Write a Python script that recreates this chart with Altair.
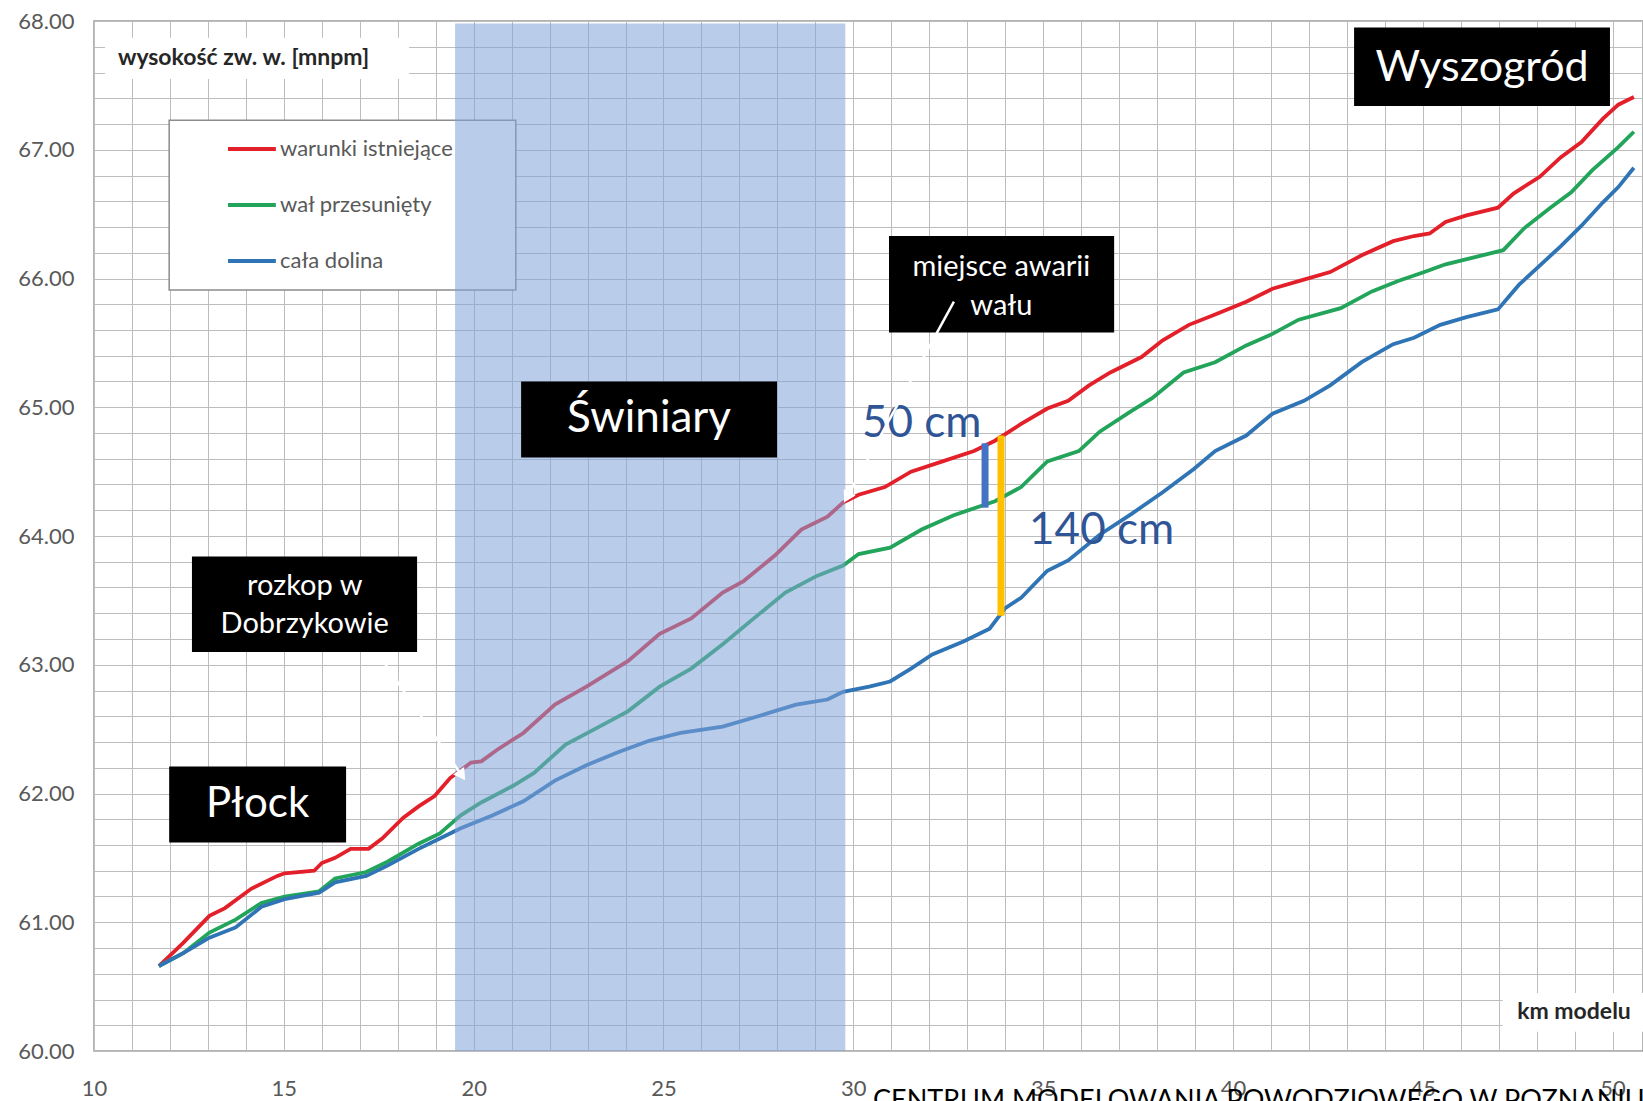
import altair as alt
import numpy as np
import pandas as pd

# ---- water level profiles along the model kilometre ----
km_istn = [11.71, 12.35, 13.04, 13.45, 14.14, 14.83, 15.02, 15.8, 16.0, 16.35, 16.76, 17.23, 17.59,
           18.14, 18.55, 18.97, 19.38, 19.66, 19.93, 20.2, 20.62, 21.31, 22.14, 22.97, 24.07, 24.9,
           25.73, 26.56, 27.11, 27.94, 28.63, 29.32, 29.73, 30.14, 30.83, 31.52, 32.35, 33.18, 33.73,
           34.42, 35.11, 35.66, 36.21, 36.77, 37.59, 38.15, 38.84, 39.53, 40.35, 41.04, 41.73, 42.56,
           43.39, 44.22, 44.77, 45.18, 45.6, 46.15, 46.98, 47.39, 48.08, 48.63, 49.18, 49.74, 50.15, 50.56]
h_istn = [60.66, 60.84, 61.05, 61.11, 61.26, 61.36, 61.38, 61.40, 61.46, 61.50, 61.57, 61.57, 61.65,
          61.81, 61.90, 61.98, 62.12, 62.18, 62.24, 62.25, 62.34, 62.47, 62.69, 62.83, 63.03, 63.24,
          63.36, 63.56, 63.65, 63.85, 64.05, 64.15, 64.26, 64.32, 64.38, 64.50, 64.58, 64.66, 64.74,
          64.87, 64.99, 65.05, 65.17, 65.27, 65.39, 65.52, 65.64, 65.72, 65.82, 65.92, 65.98, 66.05,
          66.18, 66.29, 66.33, 66.35, 66.44, 66.49, 66.55, 66.66, 66.79, 66.94, 67.06, 67.24, 67.35, 67.41]

km_wal = [11.71, 12.35, 13.04, 13.73, 14.41, 15.02, 15.93, 16.35, 17.17, 17.73, 18.55, 19.11, 19.66,
          20.2, 21.04, 21.59, 22.42, 23.25, 24.07, 24.9, 25.73, 26.56, 27.38, 28.21, 29.04, 29.73,
          30.14, 30.97, 31.8, 32.63, 33.73, 34.42, 35.11, 35.94, 36.49, 37.32, 37.87, 38.7, 39.53,
          40.35, 41.04, 41.73, 42.84, 43.66, 44.35, 45.04, 45.6, 46.43, 47.12, 47.67, 48.36, 48.91,
          49.46, 50.15, 50.56]
h_wal = [60.66, 60.76, 60.92, 61.02, 61.15, 61.20, 61.24, 61.34, 61.39, 61.47, 61.61, 61.69, 61.83,
         61.93, 62.06, 62.16, 62.38, 62.51, 62.64, 62.83, 62.97, 63.16, 63.36, 63.56, 63.69, 63.77,
         63.86, 63.91, 64.05, 64.16, 64.27, 64.38, 64.58, 64.66, 64.81, 64.97, 65.07, 65.27, 65.35,
         65.48, 65.57, 65.68, 65.77, 65.90, 65.98, 66.05, 66.11, 66.17, 66.22, 66.39, 66.55, 66.67,
         66.84, 67.02, 67.14]

km_dol = [11.71, 12.35, 13.04, 13.73, 14.41, 15.02, 15.93, 16.35, 17.17, 17.73, 18.55, 19.11, 19.66,
          20.49, 21.31, 22.14, 22.97, 23.8, 24.62, 25.45, 26.56, 27.38, 28.49, 29.32, 29.73, 30.42,
          30.97, 31.52, 32.08, 32.9, 33.59, 34.0, 34.42, 35.11, 35.66, 36.49, 37.32, 38.15, 38.97,
          39.53, 40.35, 41.04, 41.87, 42.56, 43.39, 44.22, 44.77, 45.46, 46.15, 46.98, 47.53, 48.08,
          48.63, 49.18, 49.74, 50.15, 50.56]
h_dol = [60.66, 60.76, 60.88, 60.96, 61.12, 61.18, 61.23, 61.31, 61.36, 61.44, 61.57, 61.65, 61.73,
         61.83, 61.94, 62.10, 62.22, 62.32, 62.41, 62.47, 62.52, 62.59, 62.69, 62.73, 62.79, 62.83,
         62.87, 62.97, 63.08, 63.18, 63.28, 63.44, 63.52, 63.73, 63.81, 64.01, 64.17, 64.34, 64.52,
         64.66, 64.78, 64.95, 65.05, 65.17, 65.35, 65.49, 65.54, 65.64, 65.70, 65.76, 65.95, 66.10,
         66.25, 66.41, 66.59, 66.71, 66.86]

series_names = ["warunki istniejące", "wał przesunięty", "cała dolina"]
series_colors = ["#e3202a", "#22a45a", "#2f74b5"]

# differences at the levee failure site [m]
diff_wal = 0.5
diff_dolina = 1.4
km_awaria = 33.47

x_ticks = list(range(10, 51))
y_ticks = [round(v, 1) for v in np.arange(60.0, 68.01, 0.2)]

# ---- layout ----
X_DOM = [10, 50.8]
Y_DOM = [60, 68]
W, H = 1549, 1030
PX_KM = W / (X_DOM[1] - X_DOM[0])
PX_M = H / (Y_DOM[1] - Y_DOM[0])
FONT = "Lato"

xs = alt.Scale(domain=X_DOM, nice=False, zero=False)
ys = alt.Scale(domain=Y_DOM, nice=False, zero=False)

AX_X = alt.Axis(values=x_ticks, grid=True, gridColor="#bdbdbd", gridWidth=1,
                ticks=False, domain=False, labelFlush=False, labelOverlap=False,
                labelExpr="datum.value % 5 == 0 ? datum.value : ''",
                labelFont=FONT, labelFontSize=22, labelColor="#595959", labelPadding=27)
AX_Y = alt.Axis(values=y_ticks, grid=True, gridColor="#bdbdbd", gridWidth=1,
                ticks=False, domain=False, labelFlush=False, labelOverlap=False,
                labelExpr="abs(datum.value - round(datum.value)) < 0.01 ? format(datum.value, '.2f') : ''",
                labelFont=FONT, labelFontSize=22, labelColor="#595959", labelPadding=20)


def X(field):
    return alt.X(field, type="quantitative", scale=xs, axis=AX_X, title=None)


def Y(field):
    return alt.Y(field, type="quantitative", scale=ys, axis=AX_Y, title=None)


frames = []
for name, kms, hs in [(series_names[0], km_istn, h_istn),
                      (series_names[1], km_wal, h_wal),
                      (series_names[2], km_dol, h_dol)]:
    frames.append(pd.DataFrame({"km": kms, "h": hs, "seria": name}))
profiles = pd.concat(frames, ignore_index=True)

series_scale = alt.Scale(domain=series_names, range=series_colors)

lines = alt.Chart(profiles).mark_line(strokeWidth=3.8, interpolate="linear").encode(
    x=X("km"), y=Y("h"),
    color=alt.Color("seria:N", scale=series_scale, legend=None),
    order=alt.Order("km:Q"),
)

# ---- legend box ----
leg_box = alt.Chart(pd.DataFrame({"x": [11.98], "x2": [21.11], "y": [67.23], "y2": [65.91]})).mark_rect(
    fill="white", stroke="#8c8c8c", strokeWidth=1.5).encode(x=X("x"), x2="x2", y=Y("y"), y2="y2")
leg_y = [67.006, 66.571, 66.136]
leg_df = pd.DataFrame({"x": [13.53] * 3, "x2": [14.79] * 3, "y": leg_y, "tx": [14.90] * 3,
                       "seria": series_names})
leg_lines = alt.Chart(leg_df).mark_rule(strokeWidth=4).encode(
    x=X("x"), x2="x2", y=Y("y"), color=alt.Color("seria:N", scale=series_scale, legend=None))
leg_text = alt.Chart(leg_df).mark_text(align="left", baseline="middle", font=FONT, fontSize=22,
                                       color="#595959").encode(x=X("tx"), y=Y("y"), text="seria:N")

# ---- Świniary reach shading ----
shade = alt.Chart(pd.DataFrame({"x": [19.51], "x2": [29.79], "y": [60.0], "y2": [67.98]})).mark_rect(
    fill="#7fa3d8", opacity=0.55).encode(x=X("x"), x2="x2", y=Y("y"), y2="y2")

# ---- axis captions inside the plot ----
cap_bg = alt.Chart(pd.DataFrame({"x": [10.29, 47.10], "x2": [18.3, 50.8],
                                 "y": [67.87, 60.45], "y2": [67.55, 60.15]})).mark_rect(
    fill="white").encode(x=X("x"), x2="x2", y=Y("y"), y2="y2")
cap_left = alt.Chart(pd.DataFrame({"x": [10.63], "y": [67.71], "t": ["wysokość zw. w. [mnpm]"]})).mark_text(
    align="left", baseline="middle", font=FONT, fontSize=23, fontWeight="bold", color="#262626").encode(
    x=X("x"), y=Y("y"), text="t:N")
cap_right = alt.Chart(pd.DataFrame({"x": [50.48], "y": [60.30], "t": ["km modelu"]})).mark_text(
    align="right", baseline="middle", font=FONT, fontSize=23, fontWeight="bold", color="#262626").encode(
    x=X("x"), y=Y("y"), text="t:N")

# ---- black label boxes ----
boxes = pd.DataFrame({
    "x": [11.98, 12.58, 21.25, 30.94, 43.19],
    "x2": [16.64, 18.51, 27.99, 36.87, 49.93],
    "y": [62.21, 63.84, 65.20, 66.33, 67.95],
    "y2": [61.62, 63.10, 64.61, 65.58, 67.34],
})
box_marks = alt.Chart(boxes).mark_rect(fill="black").encode(x=X("x"), x2="x2", y=Y("y"), y2="y2")
box_text = pd.DataFrame({
    "x": [14.31, 15.55, 15.55, 24.62, 33.90, 33.90, 46.56],
    "y": [61.915, 63.61, 63.32, 64.91, 66.09, 65.79, 67.635],
    "t": ["Płock", "rozkop w", "Dobrzykowie", "Świniary", "miejsce awarii", "wału", "Wyszogród"],
    "fs": [42, 29, 29, 44, 29, 29, 43],
})
box_labels = alt.Chart(box_text).mark_text(align="center", baseline="middle", font=FONT,
                                           color="white").encode(
    x=X("x"), y=Y("y"), text="t:N", size=alt.Size("fs:Q", scale=None, legend=None))

# ---- differences at the failure site ----
h_top_wal = 64.72
bars = pd.DataFrame({
    "x": [km_awaria, km_awaria + 0.42],
    "y": [h_top_wal, 64.78],
    "y2": [h_top_wal - diff_wal, 64.78 - diff_dolina],
    "c": ["#4472c4", "#ffc000"],
})
bar_marks = alt.Chart(bars).mark_rule(strokeWidth=7).encode(
    x=X("x"), y=Y("y"), y2="y2", color=alt.Color("c:N", scale=None, legend=None))
cm_text = alt.Chart(pd.DataFrame({
    "x": [30.23, 34.63], "y": [64.87, 64.04],
    "t": [f"{round(diff_wal * 100)} cm", f"{round(diff_dolina * 100)} cm"],
})).mark_text(align="left", baseline="middle", font=FONT, fontSize=44, color="#2f5597").encode(
    x=X("x"), y=Y("y"), text="t:N")

# ---- white pointer arrows ----
arrows = pd.DataFrame({"x": [32.65, 17.66], "y": [65.82, 63.01], "x2": [29.83, 19.69], "y2": [64.30, 62.14]})
dxp = (arrows["x2"] - arrows["x"]) * PX_KM
dyp = -(arrows["y2"] - arrows["y"]) * PX_M
arrows["ang"] = (np.degrees(np.arctan2(dxp, -dyp)) + 360) % 360
arrow_lines = alt.Chart(arrows).mark_rule(color="white", strokeWidth=2.5).encode(
    x=X("x"), y=Y("y"), x2="x2", y2="y2")
arrow_heads = alt.Chart(arrows).mark_point(shape="triangle-up", filled=True, color="white",
                                           opacity=1, size=180).encode(
    x=X("x2"), y=Y("y2"), angle=alt.Angle("ang:Q", scale=None))

# ---- footer ----
footer = alt.Chart(pd.DataFrame({"x": [30.52], "y": [59.55],
                                 "t": ["CENTRUM MODELOWANIA POWODZIOWEGO W POZNANIU"]})).mark_text(
    align="left", baseline="alphabetic", font=FONT, fontSize=27, color="black").encode(
    x=X("x"), y=Y("y"), text="t:N")

chart = alt.layer(
    lines, leg_box, leg_lines, leg_text, shade, cap_bg, cap_left, cap_right,
    box_marks, box_labels, bar_marks, cm_text, arrow_lines, arrow_heads, footer,
).properties(
    width=W, height=H,
    autosize=alt.AutoSizeParams(type="none"),
    padding={"left": 94, "top": 21, "right": 0, "bottom": 50},
    background="white",
).configure_view(stroke="#9a9a9a", strokeWidth=1.5)

chart.save("out.html", embed_options={"renderer": "svg", "actions": False})
